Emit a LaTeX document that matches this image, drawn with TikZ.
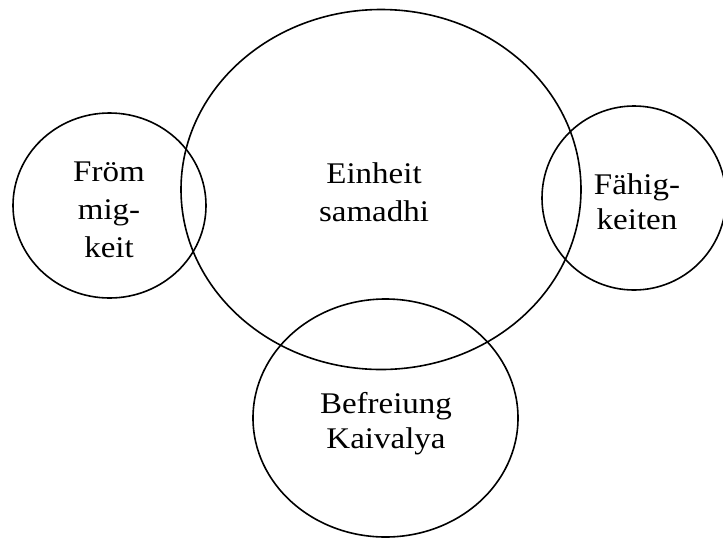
\documentclass[tikz,border=0pt]{standalone}
\usepackage{fontspec}
\setmainfont[FakeStretch=1.1]{Liberation Serif}
\begin{document}
\begin{tikzpicture}[x=1pt,y=-1pt,
  circ/.style={draw=black,line width=1.6pt},
  lbl/.style={align=center,inner sep=0pt,anchor=base},
  wide/.style={lbl,font=\fontsize{30}{38}\selectfont},
  tight/.style={lbl,font=\fontsize{30}{35}\selectfont}]
\useasboundingbox (0,0) rectangle (723,539);
\draw[circ] (381,189.5) ellipse [x radius=200, y radius=180];
\draw[circ] (109.5,205.5) ellipse [x radius=96.5, y radius=92.5];
\draw[circ] (634,198) ellipse [x radius=92, y radius=92];
\draw[circ] (385.5,418) ellipse [x radius=132.5, y radius=119];
\node[wide] (e) at (374,221) {Einheit\\samadhi};
\node[wide] (f) at (109,257) {Fröm\\mig-\\keit};
\node[tight] (k) at (637,229) {Fähig-\\keiten};
\node[tight] (b) at (386,448) {Befreiung\\Kaivalya};
\end{tikzpicture}
\end{document}
